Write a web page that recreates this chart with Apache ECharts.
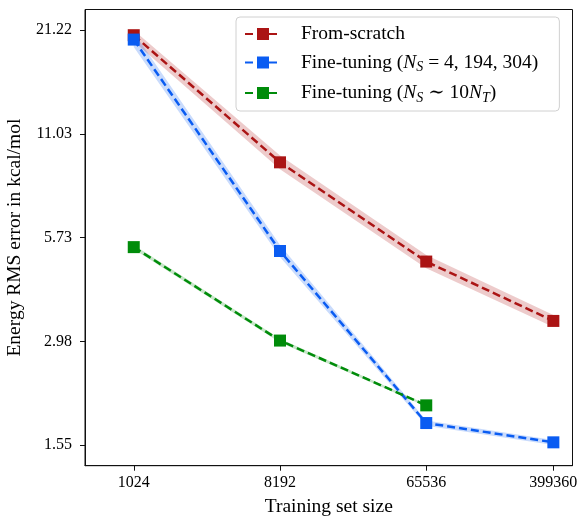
<!DOCTYPE html>
<html>
<head>
<meta charset="utf-8">
<script src="https://cdn.jsdelivr.net/npm/echarts@6/dist/echarts.min.js"></script>
<style>
html,body{margin:0;padding:0;background:#fff;}
#c{width:579px;height:516px;}
</style>
</head>
<body>
<div id="c"></div>
<script>
// ---- data ----
const trainSizes = [1024, 8192, 65536, 399360];
const xTicks = [1024, 8192, 65536, 399360];
const yTicks = [1.55, 2.98, 5.73, 11.03, 21.22];

const scratchMean = [20.56, 9.22, 4.93, 3.39];
const scratchLow  = [19.75, 8.83, 4.73, 3.26];
const scratchHigh = [21.22, 9.62, 5.14, 3.52];

const fineMean = [20.0, 5.27, 1.78, 1.576];
const fineLow  = [19.1, 5.07, 1.75, 1.55];
const fineHigh = [20.9, 5.47, 1.81, 1.60];

const fine10Sizes = [1024, 8192, 65536];
const fine10Mean = [5.40, 2.995, 1.99];
const fine10Low  = [5.33, 2.96, 1.975];
const fine10High = [5.47, 3.03, 2.005];

const names = ['From-scratch', 'Fine-tuning (NS = 4,194,304)', 'Fine-tuning (NS ~ 10NT)'];
const colors = ['#AB1414', '#0A5CF2', '#008C0A'];
const bandColors = ['rgba(171,20,20,0.22)', 'rgba(10,92,242,0.22)', 'rgba(0,140,10,0.22)'];

const FONT = '"Liberation Serif", "DejaVu Serif", serif';

function pairs(xs, ys) { return xs.map((x, i) => [x, ys[i]]); }
function bandData(xs, lo, hi) { return xs.map((x, i) => [x, lo[i], hi[i]]); }

function bandSeries(xs, lo, hi, color) {
  return {
    type: 'custom',
    silent: true,
    z: 1,
    data: bandData(xs, lo, hi),
    encode: { x: 0, y: [1, 2] },
    renderItem: function (params, api) {
      if (params.dataIndexInside !== 0) return null;
      const n = params.dataInsideLength;
      const up = [], dn = [];
      for (let i = 0; i < n; i++) {
        const x = api.value(0, i);
        up.push(api.coord([x, api.value(2, i)]));
        dn.push(api.coord([x, api.value(1, i)]));
      }
      const pts = up.concat(dn.reverse());
      return {
        type: 'polygon',
        shape: { points: pts },
        style: { fill: color, stroke: null }
      };
    }
  };
}

function lineSeries(name, xs, ys, color) {
  return {
    name: name,
    type: 'line',
    z: 3,
    data: pairs(xs, ys),
    symbol: 'rect',
    symbolSize: 12,
    showAllSymbol: true,
    itemStyle: { color: color },
    lineStyle: { color: color, width: 2.5, type: [8, 4] },
    emphasis: { disabled: true },
    animation: false
  };
}

const legendRich = {
  t: { fontFamily: FONT, fontSize: 19.5, color: '#000', lineHeight: 22 },
  i: { fontFamily: FONT, fontSize: 19.5, fontStyle: 'italic', color: '#000', lineHeight: 22 },
  s: { fontFamily: FONT, fontSize: 14, fontStyle: 'italic', color: '#000', lineHeight: 14, padding: [10, 0, 0, 0] }
};

function legendFmt(name) {
  if (name === names[0]) return '{t|From-scratch}';
  if (name === names[1]) return '{t|Fine-tuning (}{i|N}{s|S}{t| = 4, 194, 304)}';
  return '{t|Fine-tuning (}{i|N}{s|S}{t| \u223C 10}{i|N}{s|T}{t|)}';
}

const chart = echarts.init(document.getElementById('c'), null, { renderer: 'canvas' });
chart.setOption({
  animation: false,
  backgroundColor: '#fff',
  grid: {
    left: 85, right: 6.5, top: 9.5, bottom: 50.3,
    containLabel: false, outerBoundsMode: 'none',
    show: true, borderColor: '#111', borderWidth: 1, backgroundColor: 'transparent'
  },
  legend: {
    data: names,
    orient: 'vertical',
    left: 236, top: 17,
    padding: [7, 21, 6, 8],
    itemWidth: 36, itemHeight: 15, itemGap: 6.5,
    backgroundColor: 'rgba(255,255,255,0.85)',
    borderColor: '#d0d0d0', borderWidth: 1, borderRadius: 4,
    textStyle: { fontFamily: FONT, fontSize: 19.5, color: '#000', padding: [0, 0, 0, 15], rich: legendRich },
    formatter: legendFmt,
    selectedMode: false
  },
  xAxis: {
    type: 'log', logBase: 2,
    min: 512, max: 524288,
    name: 'Training set size',
    nameLocation: 'middle', nameGap: 31,
    nameTextStyle: { fontFamily: FONT, fontSize: 19.5, color: '#000' },
    axisLine: { show: true, lineStyle: { color: '#111', width: 1 } },
    axisTick: { show: true, inside: false, length: 5, lineStyle: { color: '#111', width: 1 }, customValues: xTicks },
    axisLabel: { customValues: xTicks, margin: 9, fontFamily: FONT, fontSize: 16, color: '#000',
      formatter: function (v) { return String(Math.round(v)); } },
    splitLine: { show: false }, minorTick: { show: false }, minorSplitLine: { show: false }
  },
  yAxis: {
    type: 'log', logBase: 10,
    min: 1.36, max: 24.18,
    name: 'Energy RMS error in kcal/mol',
    nameLocation: 'middle', nameGap: 55,
    nameTextStyle: { fontFamily: FONT, fontSize: 19.5, color: '#000' },
    axisLine: { show: true, lineStyle: { color: '#111', width: 1 } },
    axisTick: { show: true, inside: false, length: 5, lineStyle: { color: '#111', width: 1 }, customValues: yTicks },
    axisLabel: { customValues: yTicks, margin: 13, fontFamily: FONT, fontSize: 16, color: '#000',
      formatter: function (v) { return Number(v).toFixed(2); } },
    splitLine: { show: false }, minorTick: { show: false }, minorSplitLine: { show: false }
  },
  series: [
    bandSeries(trainSizes, scratchLow, scratchHigh, bandColors[0]),
    bandSeries(trainSizes, fineLow, fineHigh, bandColors[1]),
    bandSeries(fine10Sizes, fine10Low, fine10High, bandColors[2]),
    lineSeries(names[0], trainSizes, scratchMean, colors[0]),
    lineSeries(names[1], trainSizes, fineMean, colors[1]),
    lineSeries(names[2], fine10Sizes, fine10Mean, colors[2])
  ]
});
</script>
</body>
</html>
